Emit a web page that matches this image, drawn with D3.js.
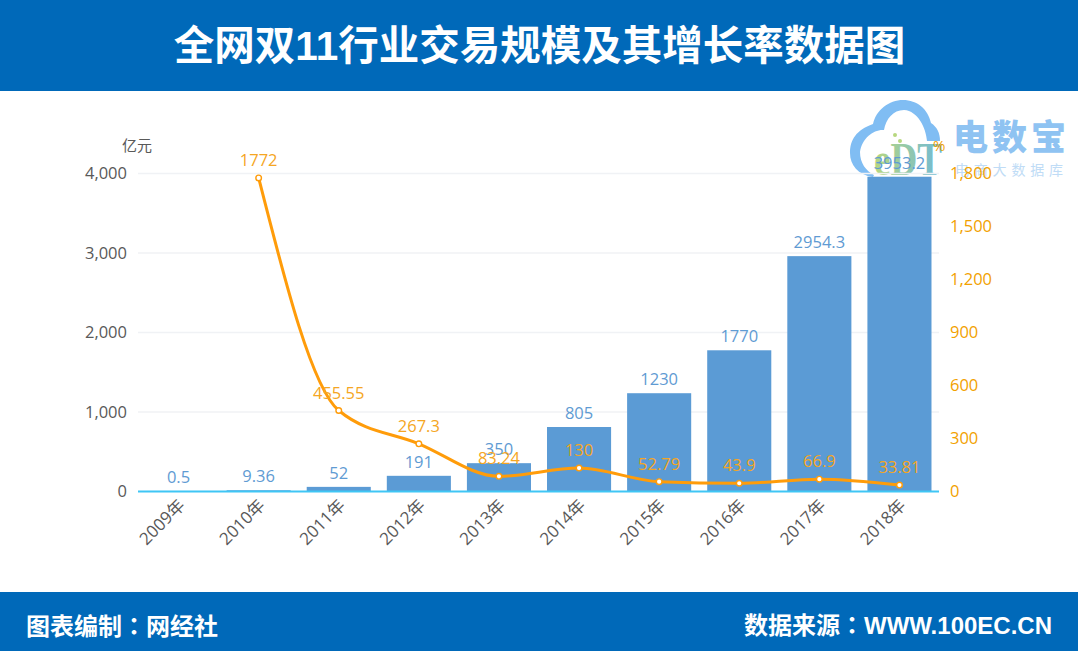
<!DOCTYPE html>
<html>
<head>
<meta charset="utf-8">
<script src="https://cdn.jsdelivr.net/npm/d3@7"></script>
<style>
html,body{margin:0;padding:0;background:#fff;}
svg{display:block;font-family:"Open Sans","Noto Sans CJK SC",sans-serif;}
</style>
</head>
<body>
<svg id="vis" width="1078" height="651"></svg>
<script>
var years = ["2009年","2010年","2011年","2012年","2013年","2014年","2015年","2016年","2017年","2018年"];
var gmv = [0.5,9.36,52,191,350,805,1230,1770,2954.3,3953.2];
var growth = [null,1772,455.55,267.3,83.24,130,52.79,43.9,66.9,33.81];
var leftTicks = [0,1000,2000,3000,4000];
var rightTicks = [0,300,600,900,1200,1500,1800];

var blue = "#5b9bd5", orange = "#ff9c0a", header = "#0069b9";
var headFont = '"Liberation Sans","Noto Sans CJK SC",sans-serif';
var footFont = '"Liberation Sans","Noto Sans CJK TC",sans-serif'; // TC has the centred colon
var svg = d3.select("#vis");

// header and footer
svg.append("rect").attr("width",1078).attr("height",91).attr("fill",header);
svg.append("rect").attr("y",592).attr("width",1078).attr("height",59).attr("fill",header);
svg.append("text").attr("x",539.5).attr("y",60).attr("text-anchor","middle").attr("font-family",headFont)
  .attr("fill","#fff").attr("font-size",40.5).attr("font-weight",700).text("全网双11行业交易规模及其增长率数据图");
svg.append("text").attr("x",26).attr("y",635).attr("font-family",footFont).attr("fill","#fff").attr("font-size",24).attr("font-weight",700).text("图表编制：网经社");
svg.append("text").attr("x",1052).attr("y",634).attr("text-anchor","end").attr("font-family",footFont).attr("fill","#fff").attr("font-size",24).attr("font-weight",700).text("数据来源：WWW.100EC.CN");

// scales
var x = d3.scaleBand().domain(years).range([138.5,939.5]).paddingInner(0.2).paddingOuter(0.1);
var yL = d3.scaleLinear().domain([0,4000]).range([491,173]);
var yR = d3.scaleLinear().domain([0,1800]).range([491,173]);
var cx = function(d){ return x(d)+x.bandwidth()/2; };

// watermark logo
var defs = svg.append("defs");
var grad = defs.append("linearGradient").attr("id","edt").attr("x1",0).attr("x2",1).attr("y1",0).attr("y2",0);
grad.append("stop").attr("offset","0%").attr("stop-color","#b7d77f");
grad.append("stop").attr("offset","100%").attr("stop-color","#6fb9d8");
var logo = svg.append("g");
logo.append("path")
  .attr("d","M873,177 C858,175 850,165 850,153 C850,140 856,130 873,124 C876,110 889,100 903,100 C917,100 928,109 931,123 C937,127 940,133 940,141 L927,141 C926,128 918,111 904,110 C893,110 886,119 884,130 C874,129 862,138 860,152 C860,163 866,171 874,175 Z")
  .attr("fill","#80bdf3");
logo.append("text").attr("x",874).attr("y",175).attr("font-family","Liberation Serif").attr("font-size",46).attr("font-weight",700).attr("fill","url(#edt)").attr("textLength",68).attr("lengthAdjust","spacingAndGlyphs").text("eDT");
logo.append("circle").attr("cx",895).attr("cy",135).attr("r",2).attr("fill","#b7d77f");
logo.append("circle").attr("cx",900).attr("cy",141).attr("r",2).attr("fill","#b7d77f");
logo.append("text").attr("x",953).attr("y",150).attr("font-family",'"Noto Sans CJK SC"').attr("font-size",35).attr("font-weight",900).attr("fill","#8fc3f2").attr("textLength",113).text("电数宝");
logo.append("text").attr("x",955).attr("y",175).attr("font-family",'"Noto Sans CJK SC"').attr("font-size",14).attr("fill","#c0dcf6").attr("textLength",108).text("电商大数据库");

// grid lines
svg.append("g").selectAll("line").data(leftTicks.slice(1)).enter().append("line")
  .attr("x1",138).attr("x2",939)
  .attr("y1",function(d){return yL(d)+0.5;}).attr("y2",function(d){return yL(d)+0.5;})
  .attr("stroke","#f0f2f5").attr("stroke-width",1.5);

// bars
svg.append("g").selectAll("rect").data(years).enter().append("rect")
  .attr("x",function(d){return x(d);})
  .attr("width",x.bandwidth())
  .attr("y",function(d,i){return yL(gmv[i]);})
  .attr("height",function(d,i){return 491-yL(gmv[i]);})
  .attr("fill",blue);

// x axis line
svg.append("line").attr("x1",138).attr("x2",939).attr("y1",491.5).attr("y2",491.5).attr("stroke","#3fc6f5").attr("stroke-width",2);

// left axis
svg.append("g").selectAll("text").data(leftTicks).enter().append("text")
  .attr("x",127).attr("y",function(d){return yL(d)+6;}).attr("text-anchor","end")
  .attr("font-size",16.5).attr("fill","#595959").text(d3.format(","));
svg.append("text").attr("x",122).attr("y",151).attr("font-size",15).attr("fill","#595959").text("亿元");

// right axis
svg.append("g").selectAll("text").data(rightTicks).enter().append("text")
  .attr("x",950).attr("y",function(d){return yR(d)+6;})
  .attr("font-size",16.5).attr("fill","#f2a100").text(d3.format(","));
svg.append("text").attr("x",933).attr("y",151).attr("font-size",15).attr("fill","#f2a100").text("%");

// x labels
svg.append("g").selectAll("text").data(years).enter().append("text")
  .attr("transform",function(d){return "translate("+(cx(d)-1)+",498) rotate(-45)";})
  .attr("text-anchor","end").attr("dy","0.7em")
  .attr("font-size",17).attr("fill","#595959").text(function(d){return d;});

// growth line
var pts = years.map(function(d,i){return {year:d,v:growth[i]};}).filter(function(d){return d.v!==null;});
var line = d3.line().x(function(d){return cx(d.year);}).y(function(d){return yR(d.v);}).curve(d3.curveMonotoneX);
svg.append("path").attr("d",line(pts)).attr("fill","none").attr("stroke",orange).attr("stroke-width",3);
svg.append("g").selectAll("circle").data(pts).enter().append("circle")
  .attr("cx",function(d){return cx(d.year);}).attr("cy",function(d){return yR(d.v);}).attr("r",2.8)
  .attr("fill","#fff").attr("stroke",orange).attr("stroke-width",1.4);

// value labels
svg.append("g").selectAll("text").data(years).enter().append("text")
  .attr("x",cx).attr("y",function(d,i){return yL(gmv[i])-8;}).attr("text-anchor","middle")
  .attr("font-size",16.5).attr("fill","#5f9bd3").text(function(d,i){return gmv[i];});
svg.append("g").selectAll("text").data(pts).enter().append("text")
  .attr("x",function(d){return cx(d.year);}).attr("y",function(d){return yR(d.v)-12;}).attr("text-anchor","middle")
  .attr("font-size",16.5).attr("fill","#f5a623").text(function(d){return d.v;});
</script>
</body>
</html>
